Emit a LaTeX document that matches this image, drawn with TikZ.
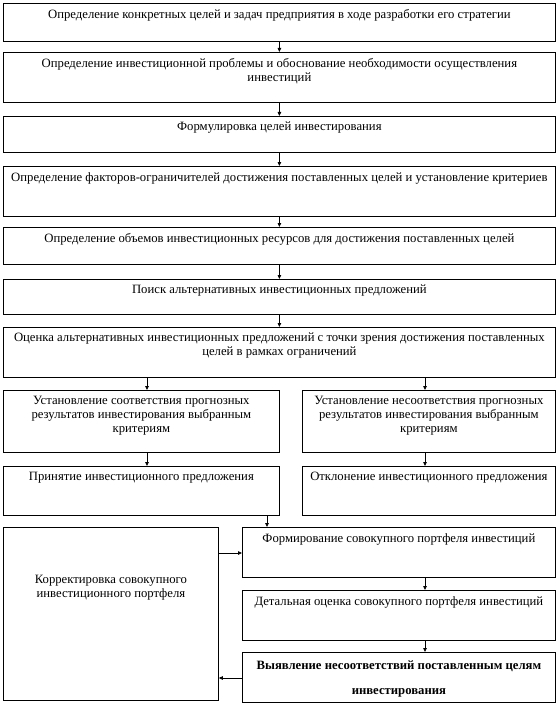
\documentclass[tikz,border=0pt]{standalone}
\usepackage{fontspec}
\setmainfont{Liberation Serif}
\usepackage{tikz}
\usetikzlibrary{arrows.meta,positioning,calc}
\newcommand{\boxfont}{\fontsize{12.7}{14}\selectfont}
\tikzset{
  blk/.style={draw,line width=0.8pt,anchor=north west,inner sep=0pt},
  txt/.style={anchor=north,align=center,inner sep=0pt,yshift=-6pt},
  arr/.style={-{Triangle[length=4pt,width=3.5pt]},line width=0.8pt},
  ln/.style={line width=0.8pt}
}

\begin{document}
\begin{tikzpicture}[x=1pt,y=-1pt,font=\boxfont]
  \useasboundingbox (0,0) rectangle (558,706);
  % main column
  \node[blk,minimum width=552pt,minimum height=38pt,label={[txt]north:Определение конкретных целей и задач предприятия в ходе разработки его стратегии}] (b1) at (3,3) {};
  \node[blk,minimum width=552pt,minimum height=50pt,label={[txt]north:Определение инвестиционной проблемы и обоснование необходимости осуществления\\инвестиций}] (b2) at (3,52) {};
  \node[blk,minimum width=552pt,minimum height=36pt,label={[txt]north:Формулировка целей инвестирования}] (b3) at (3,116) {};
  \node[blk,minimum width=552pt,minimum height=50pt,label={[txt]north:Определение факторов-ограничителей достижения поставленных целей и установление критериев}] (b4) at (3,166) {};
  \node[blk,minimum width=552pt,minimum height=37pt,label={[txt]north:Определение объемов инвестиционных ресурсов для достижения поставленных целей}] (b5) at (3,227) {};
  \node[blk,minimum width=552pt,minimum height=35pt,label={[txt]north:Поиск альтернативных инвестиционных предложений}] (b6) at (3,279) {};
  \node[blk,minimum width=552pt,minimum height=50pt,label={[txt]north:Оценка альтернативных инвестиционных предложений с точки зрения достижения поставленных\\целей в рамках ограничений}] (b7) at (3,327) {};
  % two branches
  \node[blk,minimum width=276pt,minimum height=62pt,label={[txt]north:Установление соответствия прогнозных\\результатов инвестирования выбранным\\критериям}] (b8l) at (3,390) {};
  \node[blk,minimum width=253pt,minimum height=62pt,label={[txt]north:Установление несоответствия прогнозных\\результатов инвестирования выбранным\\критериям}] (b8r) at (302,390) {};
  \node[blk,minimum width=276pt,minimum height=49pt,label={[txt]north:Принятие инвестиционного предложения}] (b9l) at (3,466) {};
  \node[blk,minimum width=253pt,minimum height=49pt,label={[txt]north:Отклонение инвестиционного предложения}] (b9r) at (302,466) {};
  % portfolio loop
  \node[blk,minimum width=215pt,minimum height=173pt,label={[txt,yshift=-42pt]north:Корректировка совокупного\\инвестиционного портфеля}] (korr) at (3,527) {};
  \node[blk,minimum width=313pt,minimum height=50pt,label={[txt]north:Формирование совокупного портфеля инвестиций}] (form) at (242,527) {};
  \node[blk,minimum width=313pt,minimum height=50pt,label={[txt]north:Детальная оценка совокупного портфеля инвестиций}] (det) at (242,590) {};
  \node[blk,minimum width=313pt,minimum height=50pt,label={[txt,yshift=-3pt,font=\boxfont\bfseries]north:Выявление несоответствий поставленным целям\\[11pt]инвестирования}] (vyy) at (242,652) {};
  \coordinate (lx) at (147,0);
  \coordinate (rx) at (425,0);
  \coordinate (jx) at (267,0);
  \coordinate (ay) at (0,553);
  \coordinate (by) at (0,678);
  \foreach \a/\b in {b1/b2,b2/b3,b3/b4,b4/b5,b5/b6,b6/b7}
    \draw[arr] (\a.south) -- (\b.north);
  \draw[arr] (b7.south -| lx) -- (b8l.north -| lx);
  \draw[arr] (b7.south -| rx) -- (b8r.north -| rx);
  \draw[arr] (b8l.south -| lx) -- (b9l.north -| lx);
  \draw[arr] (b8r.south -| rx) -- (b9r.north -| rx);
  \draw[arr] (b9l.south -| jx) -- (form.north -| jx);
  \draw[arr] (form.south -| rx) -- (det.north -| rx);
  \draw[arr] (det.south -| rx) -- (vyy.north -| rx);
  \draw[arr] (korr.east |- ay) -- (form.west |- ay);
  \draw[arr] (vyy.west |- by) -- (korr.east |- by);
\end{tikzpicture}
\end{document}
